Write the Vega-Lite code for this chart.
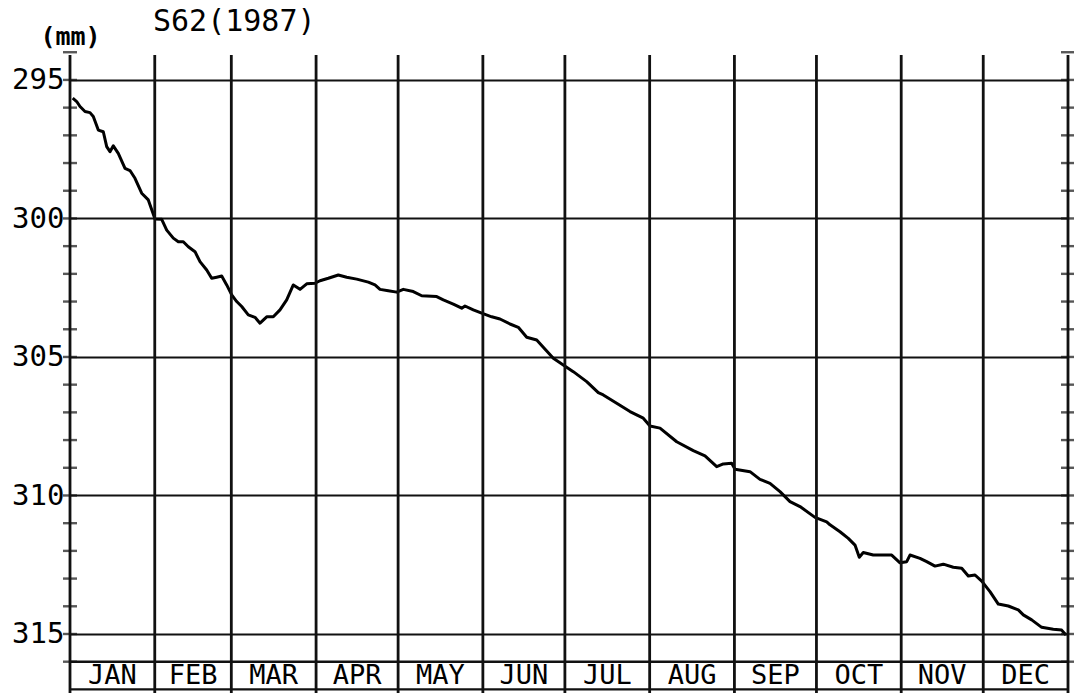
{
  "$schema": "https://vega.github.io/schema/vega-lite/v6.json",
  "width": 998,
  "height": 638,
  "autosize": {"type": "none"},
  "padding": {"left": 70, "top": 55, "right": 6, "bottom": 4},
  "background": "white",
  "config": {"view": {"stroke": null}, "font": "DejaVu Sans Mono"},
  "title": {"text": "S62(1987)", "anchor": "start", "frame": "group", "dx": 83, "dy": 17, "fontSize": 30, "fontWeight": "normal", "font": "DejaVu Sans Mono", "color": "#000"},
  "datasets": {
    "bounds": [{"day": 0}, {"day": 31}, {"day": 59}, {"day": 90}, {"day": 120}, {"day": 151}, {"day": 181}, {"day": 212}, {"day": 243}, {"day": 273}, {"day": 304}, {"day": 334}, {"day": 365}],
    "frame": [{"mm": 316}, {"mm": 317.0}],
    "months": [
      {"month": "JAN", "day": 15.5}, {"month": "FEB", "day": 45}, {"month": "MAR", "day": 74.5}, {"month": "APR", "day": 105},
      {"month": "MAY", "day": 135.5}, {"month": "JUN", "day": 166}, {"month": "JUL", "day": 196.5}, {"month": "AUG", "day": 227.5},
      {"month": "SEP", "day": 258}, {"month": "OCT", "day": 288.5}, {"month": "NOV", "day": 319}, {"month": "DEC", "day": 349.5}
    ],
    "ticks": [{"mm": 294}, {"mm": 295}, {"mm": 296}, {"mm": 297}, {"mm": 298}, {"mm": 299}, {"mm": 300}, {"mm": 301}, {"mm": 302}, {"mm": 303}, {"mm": 304}, {"mm": 305}, {"mm": 306}, {"mm": 307}, {"mm": 308}, {"mm": 309}, {"mm": 310}, {"mm": 311}, {"mm": 312}, {"mm": 313}, {"mm": 314}, {"mm": 315}, {"mm": 316}],
    "series": [
      {"day": 1.0, "mm": 295.66}, {"day": 2.45, "mm": 295.78}, {"day": 3.66, "mm": 295.96}, {"day": 5.49, "mm": 296.14}, {"day": 7.31, "mm": 296.18},
      {"day": 8.52, "mm": 296.32}, {"day": 10.35, "mm": 296.81}, {"day": 12.18, "mm": 296.87}, {"day": 13.42, "mm": 297.41}, {"day": 14.63, "mm": 297.59},
      {"day": 15.84, "mm": 297.38}, {"day": 17.66, "mm": 297.65}, {"day": 20.12, "mm": 298.19}, {"day": 21.94, "mm": 298.27}, {"day": 23.77, "mm": 298.55},
      {"day": 26.22, "mm": 299.09}, {"day": 28.64, "mm": 299.33}, {"day": 31.09, "mm": 300.02}, {"day": 33.54, "mm": 300.03}, {"day": 35.37, "mm": 300.42},
      {"day": 37.78, "mm": 300.71}, {"day": 39.61, "mm": 300.84}, {"day": 41.44, "mm": 300.84}, {"day": 43.27, "mm": 301.02}, {"day": 45.72, "mm": 301.2},
      {"day": 47.54, "mm": 301.56}, {"day": 50.0, "mm": 301.86}, {"day": 51.82, "mm": 302.16}, {"day": 53.65, "mm": 302.12}, {"day": 55.48, "mm": 302.08},
      {"day": 57.31, "mm": 302.4}, {"day": 59.14, "mm": 302.76}, {"day": 60.97, "mm": 303.0}, {"day": 62.8, "mm": 303.18}, {"day": 65.21, "mm": 303.48},
      {"day": 67.66, "mm": 303.57}, {"day": 69.49, "mm": 303.78}, {"day": 71.94, "mm": 303.55}, {"day": 74.35, "mm": 303.55}, {"day": 76.8, "mm": 303.3},
      {"day": 79.25, "mm": 302.94}, {"day": 81.67, "mm": 302.4}, {"day": 84.12, "mm": 302.56}, {"day": 86.57, "mm": 302.36}, {"day": 89.6, "mm": 302.34},
      {"day": 91.43, "mm": 302.25}, {"day": 94.47, "mm": 302.16}, {"day": 98.13, "mm": 302.04}, {"day": 101.2, "mm": 302.12}, {"day": 104.86, "mm": 302.19},
      {"day": 109.1, "mm": 302.3}, {"day": 111.55, "mm": 302.4}, {"day": 113.38, "mm": 302.56}, {"day": 116.41, "mm": 302.61}, {"day": 119.48, "mm": 302.66},
      {"day": 121.9, "mm": 302.56}, {"day": 125.55, "mm": 302.64}, {"day": 128.63, "mm": 302.79}, {"day": 134.11, "mm": 302.82}, {"day": 136.53, "mm": 302.94},
      {"day": 140.18, "mm": 303.09}, {"day": 143.26, "mm": 303.24}, {"day": 144.46, "mm": 303.16}, {"day": 147.5, "mm": 303.3}, {"day": 150.57, "mm": 303.42},
      {"day": 154.23, "mm": 303.55}, {"day": 157.26, "mm": 303.63}, {"day": 160.92, "mm": 303.81}, {"day": 163.96, "mm": 303.93}, {"day": 167.03, "mm": 304.29},
      {"day": 170.69, "mm": 304.39}, {"day": 173.1, "mm": 304.65}, {"day": 176.76, "mm": 305.05}, {"day": 180.41, "mm": 305.29}, {"day": 184.07, "mm": 305.53},
      {"day": 188.97, "mm": 305.89}, {"day": 193.21, "mm": 306.29}, {"day": 195.04, "mm": 306.37}, {"day": 199.94, "mm": 306.67}, {"day": 204.81, "mm": 306.97},
      {"day": 209.67, "mm": 307.21}, {"day": 212.12, "mm": 307.49}, {"day": 215.78, "mm": 307.57}, {"day": 221.89, "mm": 308.06}, {"day": 227.96, "mm": 308.38},
      {"day": 232.24, "mm": 308.57}, {"day": 236.52, "mm": 308.96}, {"day": 238.93, "mm": 308.86}, {"day": 242.0, "mm": 308.84}, {"day": 243.21, "mm": 309.05},
      {"day": 248.7, "mm": 309.14}, {"day": 252.35, "mm": 309.42}, {"day": 256.01, "mm": 309.56}, {"day": 259.67, "mm": 309.86}, {"day": 263.33, "mm": 310.22},
      {"day": 266.99, "mm": 310.4}, {"day": 272.47, "mm": 310.79}, {"day": 276.75, "mm": 310.95}, {"day": 277.96, "mm": 311.06}, {"day": 281.61, "mm": 311.31},
      {"day": 284.65, "mm": 311.55}, {"day": 287.1, "mm": 311.79}, {"day": 288.67, "mm": 312.23}, {"day": 290.13, "mm": 312.06}, {"day": 293.79, "mm": 312.15},
      {"day": 300.52, "mm": 312.15}, {"day": 303.56, "mm": 312.43}, {"day": 306.01, "mm": 312.39}, {"day": 307.21, "mm": 312.15}, {"day": 310.87, "mm": 312.27},
      {"day": 313.32, "mm": 312.39}, {"day": 316.36, "mm": 312.55}, {"day": 319.39, "mm": 312.48}, {"day": 323.05, "mm": 312.59}, {"day": 326.13, "mm": 312.63},
      {"day": 328.54, "mm": 312.91}, {"day": 330.99, "mm": 312.87}, {"day": 333.44, "mm": 313.09}, {"day": 336.47, "mm": 313.47}, {"day": 339.51, "mm": 313.92},
      {"day": 343.17, "mm": 313.99}, {"day": 346.82, "mm": 314.13}, {"day": 348.65, "mm": 314.31}, {"day": 351.72, "mm": 314.49}, {"day": 355.38, "mm": 314.76},
      {"day": 359.62, "mm": 314.83}, {"day": 362.69, "mm": 314.86}, {"day": 364.26, "mm": 315.04}
    ]
  },
  "layer": [
    {
      "data": {"name": "series"},
      "mark": {"type": "line", "color": "#000", "strokeWidth": 3, "strokeJoin": "round"},
      "encoding": {
        "x": {"field": "day", "type": "quantitative", "scale": {"domain": [0, 365], "nice": false, "zero": false}, "axis": null},
        "y": {"field": "mm", "type": "quantitative", "scale": {"domain": [294.1, 317.13], "reverse": true, "nice": false, "zero": false},
          "axis": {"values": [295, 300, 305, 310, 315], "grid": true, "gridColor": "#111", "gridWidth": 2.2, "gridOpacity": 1, "ticks": false, "domain": false,
            "labelFontSize": 29, "labelFont": "DejaVu Sans Mono", "labelPadding": 6, "labelColor": "#000",
            "title": "(mm)", "titleAngle": 0, "titleX": 0, "titleY": -19, "titleAlign": "center", "titleBaseline": "middle",
            "titleFontSize": 25, "titleFontWeight": "bold", "titleFont": "DejaVu Sans Mono", "titleColor": "#000"}}
      }
    },
    {
      "data": {"name": "bounds"},
      "mark": {"type": "rule", "color": "#111", "strokeWidth": 2.8},
      "encoding": {"x": {"field": "day", "type": "quantitative"}}
    },
    {
      "data": {"name": "frame"},
      "mark": {"type": "rule", "color": "#111", "strokeWidth": 2.4},
      "encoding": {"y": {"field": "mm", "type": "quantitative"}}
    },
    {
      "data": {"name": "ticks"},
      "mark": {"type": "tick", "orient": "horizontal", "color": "#111", "size": 14, "thickness": 2.4},
      "encoding": {"x": {"datum": 0}, "y": {"field": "mm", "type": "quantitative"}}
    },
    {
      "data": {"name": "ticks"},
      "mark": {"type": "tick", "orient": "horizontal", "color": "#111", "size": 14, "thickness": 2.4},
      "encoding": {"x": {"datum": 365}, "y": {"field": "mm", "type": "quantitative"}}
    },
    {
      "data": {"name": "months"},
      "mark": {"type": "text", "font": "DejaVu Sans Mono", "fontSize": 27, "color": "#000", "align": "center", "baseline": "middle"},
      "encoding": {"x": {"field": "day", "type": "quantitative"}, "y": {"datum": 316.53}, "text": {"field": "month"}}
    }
  ]
}
